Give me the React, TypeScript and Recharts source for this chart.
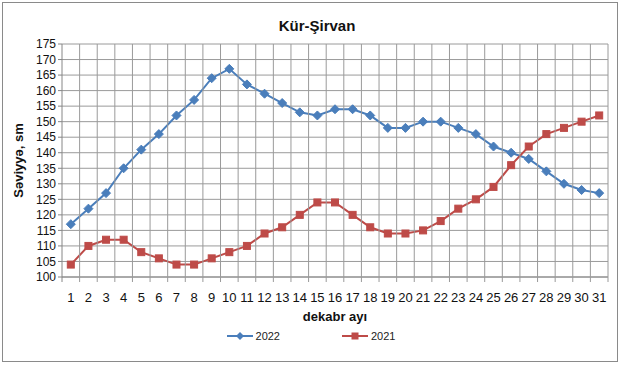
import { LineChart, Line, XAxis, YAxis, CartesianGrid, Legend } from 'recharts'

const days = [1, 2, 3, 4, 5, 6, 7, 8, 9, 10, 11, 12, 13, 14, 15, 16, 17, 18, 19, 20, 21, 22, 23, 24, 25, 26, 27, 28, 29, 30, 31]
const level2022 = [117, 122, 127, 135, 141, 146, 152, 157, 164, 167, 162, 159, 156, 153, 152, 154, 154, 152, 148, 148, 150, 150, 148, 146, 142, 140, 138, 134, 130, 128, 127]
const level2021 = [104, 110, 112, 112, 108, 106, 104, 104, 106, 108, 110, 114, 116, 120, 124, 124, 120, 116, 114, 114, 115, 118, 122, 125, 129, 136, 142, 146, 148, 150, 152]
const yTicks = [100, 105, 110, 115, 120, 125, 130, 135, 140, 145, 150, 155, 160, 165, 170, 175]

const BLUE = '#4a7ebb'
const RED = '#be4b48'
const GRID = '#9a9a9a'
const FONT = '"Liberation Sans", Arial, sans-serif'

// plot box, set by the chart margins below
const PLOT_TOP = 44
const PLOT_BOTTOM = 277

const data = days.map((d, i) => ({ day: d, y2022: level2022[i], y2021: level2021[i] }))

const Diamond = (props: any) => {
  const { cx, cy } = props
  if (cx == null || cy == null) return null
  const r = 4.5
  return (
    <polygon
      points={`${cx},${cy - r} ${cx + r},${cy} ${cx},${cy + r} ${cx - r},${cy}`}
      fill={BLUE}
      stroke={BLUE}
    />
  )
}

const Square = (props: any) => {
  const { cx, cy } = props
  if (cx == null || cy == null) return null
  return <rect x={cx - 3.5} y={cy - 3.5} width={7} height={7} fill={RED} stroke={RED} />
}

// day label plus the gridline / tick mark on the category boundary to its right
const DayTick = (props: any) => {
  const { x, y, payload, width, index } = props
  const half = width / days.length / 2
  return (
    <g>
      {index === 0 && (
        <line x1={x - half} x2={x - half} y1={PLOT_BOTTOM} y2={PLOT_BOTTOM + 5} stroke='#868686' />
      )}
      <line x1={x + half} x2={x + half} y1={PLOT_TOP} y2={PLOT_BOTTOM + 5} stroke={GRID} />
      <text x={x} y={y} dy={10} textAnchor='middle' fontSize={13} fill='#111'>
        {payload.value}
      </text>
    </g>
  )
}

const LegendContent = () => (
  <div style={{ display: 'flex', justifyContent: 'center', fontFamily: FONT, fontSize: 11, color: '#222' }}>
    <div style={{ display: 'flex', alignItems: 'center', marginRight: 62 }}>
      <svg width={26} height={10}>
        <line x1={0} y1={5} x2={26} y2={5} stroke={BLUE} strokeWidth={2} />
        <polygon points='13,1 17,5 13,9 9,5' fill={BLUE} />
      </svg>
      <span style={{ marginLeft: 3 }}>2022</span>
    </div>
    <div style={{ display: 'flex', alignItems: 'center' }}>
      <svg width={26} height={10}>
        <line x1={0} y1={5} x2={26} y2={5} stroke={RED} strokeWidth={2} />
        <rect x={9.5} y={1.5} width={7} height={7} fill={RED} />
      </svg>
      <span style={{ marginLeft: 3 }}>2021</span>
    </div>
  </div>
)

export default function App () {
  return (
    <div style={{ position: 'absolute', top: 0, left: 0, width: 622, height: 366, background: '#fff' }}>
      <div
        style={{
          position: 'absolute',
          top: 2,
          left: 2,
          width: 614,
          height: 358,
          border: '1px solid #8a8a8a'
        }}
      />
      <div
        style={{
          position: 'absolute',
          top: 17,
          left: 0,
          width: 634,
          textAlign: 'center',
          fontFamily: FONT,
          fontWeight: 'bold',
          fontSize: 15,
          color: '#111'
        }}
      >
        Kür-Şirvan
      </div>
      <LineChart
        width={622}
        height={366}
        data={data}
        margin={{ top: PLOT_TOP, right: 14, left: 0, bottom: 24 }}
        style={{ fontFamily: FONT }}
      >
        <CartesianGrid stroke={GRID} strokeWidth={1} vertical={false} />
        <XAxis
          dataKey='day'
          type='number'
          domain={[0.5, 31.5]}
          ticks={days}
          tick={false}
          tickLine={false}
          height={5}
          stroke='#868686'
        />
        <XAxis
          xAxisId='lab'
          dataKey='day'
          type='number'
          domain={[0.5, 31.5]}
          ticks={days}
          interval={0}
          tickLine={false}
          axisLine={false}
          tickMargin={4}
          height={60}
          tick={DayTick}
          label={{
            value: 'dekabr ayı',
            position: 'insideTop',
            offset: 30,
            style: { fontSize: 13, fontWeight: 'bold', fill: '#111' }
          }}
        />
        <YAxis
          domain={[100, 175]}
          ticks={yTicks}
          interval={0}
          width={62}
          tickSize={4}
          tickMargin={2}
          stroke='#868686'
          tick={{ fontSize: 12, fill: '#111' }}
          label={{
            content: ({ viewBox }: any) => {
              const cy = viewBox.y + viewBox.height / 2
              return (
                <text
                  x={18}
                  y={cy}
                  transform={`rotate(-90 18 ${cy})`}
                  textAnchor='middle'
                  dominantBaseline='central'
                  style={{ fontSize: 13, fontWeight: 'bold', fill: '#111', fontFamily: FONT }}
                >
                  Səviyyə, sm
                </text>
              )
            }
          }}
        />
        <Legend
          layout='horizontal'
          verticalAlign='middle'
          align='center'
          wrapperStyle={{ top: 330, left: 0, width: 622 }}
          content={LegendContent}
        />
        <Line
          dataKey='y2022'
          name='2022'
          stroke={BLUE}
          strokeWidth={2}
          dot={<Diamond />}
          activeDot={false}
          isAnimationActive={false}
        />
        <Line
          dataKey='y2021'
          name='2021'
          stroke={RED}
          strokeWidth={2}
          dot={<Square />}
          activeDot={false}
          isAnimationActive={false}
        />
      </LineChart>
    </div>
  )
}
